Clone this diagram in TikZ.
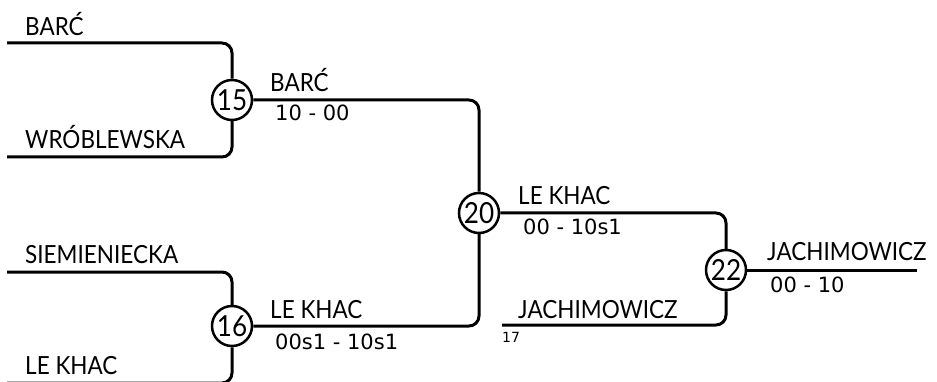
\documentclass[tikz,border=0pt]{standalone}
\usepackage{fontspec}
\newfontfamily\namefont[FakeStretch=0.9]{Lato}
\newfontfamily\scorefont{DejaVu Sans}
\begin{document}
\begin{tikzpicture}[x=1pt,y=-1pt,
  wire/.style={line width=3pt, rounded corners=10pt},
  match/.style={circle, draw, line width=2.5pt, minimum size=40pt, inner sep=0pt, font=\namefont\fontsize{29}{29}\selectfont},
  player/.style={anchor=base west, inner sep=0pt, font=\namefont\fontsize{25}{25}\selectfont},
  score/.style={anchor=base west, inner sep=0pt, font=\scorefont\fontsize{21}{21}\selectfont},
  seed/.style={anchor=base west, inner sep=0pt, font=\scorefont\fontsize{14}{14}\selectfont}]
\useasboundingbox (0,0) rectangle (937,382);
\node[match] (m15) at (232,100) {15};
\node[match] (m16) at (232,326) {16};
\node[match] (m20) at (479,213) {20};
\node[match] (m22) at (726,270) {22};
\coordinate (p1) at (7,43);
\coordinate (p2) at (7,157);
\coordinate (p3) at (7,272);
\coordinate (p4) at (7,383);
\coordinate (p17) at (502,325);
\coordinate (w) at (917,270);
\draw[wire] (p1) -| (m15);
\draw[wire] (p2) -| (m15);
\draw[wire] (p3) -| (m16);
\draw[wire] (p4) -| (m16);
\draw[wire] (m15) -| (m20);
\draw[wire] (m16) -| (m20);
\draw[wire] (m20) -| (m22);
\draw[wire] (p17) -| (m22);
\draw[wire] (m22) -- (w);
\node[player] (t1) at (25,36) {BARĆ};
\node[player] (t2) at (25,149) {WRÓBLEWSKA};
\node[player] (t3) at (25,263) {SIEMIENIECKA};
\node[player] (t4) at (25,374) {LE KHAC};
\node[player] (t5) at (270,92) {BARĆ};
\node[score] (s5) at (275,121) {10 - 00};
\node[player] (t6) at (270,318) {LE KHAC};
\node[score] (s6) at (275,349) {00s1 - 10s1};
\node[player] (t7) at (518,205) {LE KHAC};
\node[score] (s7) at (523,235) {00 - 10s1};
\node[player] (t8) at (518,318) {JACHIMOWICZ};
\node[seed] (n17) at (502,342) {17};
\node[player] (t9) at (767,260) {JACHIMOWICZ};
\node[score] (s9) at (770,292) {00 - 10};
\end{tikzpicture}
\end{document}
